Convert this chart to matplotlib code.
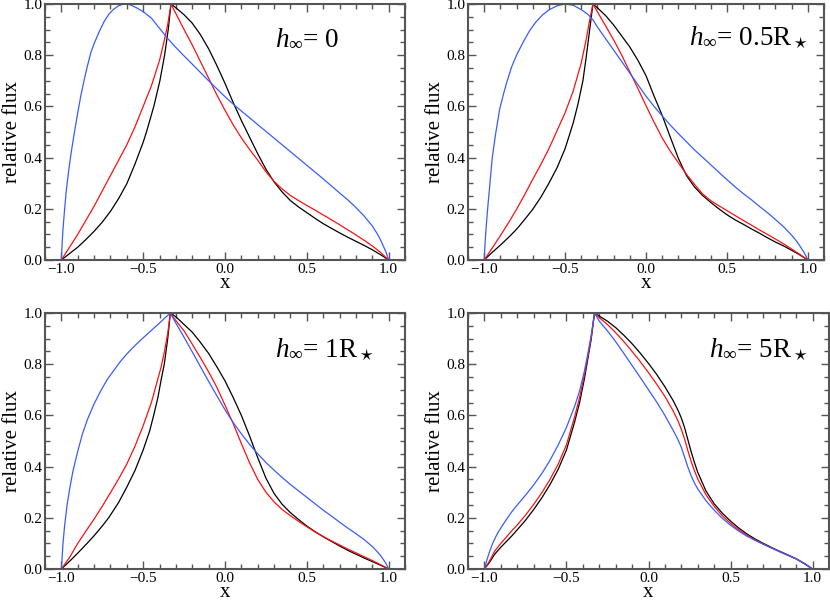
import matplotlib
matplotlib.use("Agg")
import matplotlib.pyplot as plt
from matplotlib.ticker import MultipleLocator

plt.rcParams['font.family'] = ['Liberation Serif', 'DejaVu Serif']
plt.rcParams['mathtext.fontset'] = 'custom'
plt.rcParams['mathtext.rm'] = 'Liberation Serif'
plt.rcParams['mathtext.it'] = 'Liberation Serif:italic'

# ---- values (x, relative flux) ----
labels = [r'$h_{\infty}$= 0', r'$h_{\infty}$= 0.5R$_\star$',
          r'$h_{\infty}$= 1R$_\star$', r'$h_{\infty}$= 5R$_\star$']

# panel 1: h = 0
p1_black_x = [-1.1, -1.0, -0.95, -0.9, -0.85, -0.8, -0.75, -0.7, -0.65, -0.6, -0.55, -0.5, -0.48, -0.435, -0.398,
              -0.369, -0.347, -0.33,
              -0.3, -0.25, -0.2, -0.15, -0.1, -0.05, 0.0, 0.05, 0.1, 0.15, 0.2, 0.25, 0.3, 0.35, 0.4, 0.45, 0.5,
              0.55, 0.6, 0.65, 0.7, 0.75, 0.8, 0.85, 0.9, 0.95, 1.0, 1.1]
p1_black_y = [0, 0, 0.025, 0.05, 0.08, 0.112, 0.148, 0.19, 0.24, 0.298, 0.375, 0.46, 0.5, 0.6, 0.7,
              0.8, 0.9, 1.0,
              0.985, 0.958, 0.925, 0.88, 0.825, 0.76, 0.69, 0.615, 0.545, 0.48, 0.415, 0.355, 0.305, 0.265, 0.232,
              0.207, 0.185, 0.163, 0.142, 0.124, 0.106, 0.089, 0.073, 0.057, 0.04, 0.021, 0, 0]
p1_red_x = [-1.1, -1.0, -0.95, -0.9, -0.85, -0.8, -0.75, -0.7, -0.65, -0.6, -0.55, -0.5, -0.45, -0.4, -0.37, -0.35, -0.33,
            -0.25, -0.2, -0.15, -0.1, -0.05, 0.0, 0.05, 0.1, 0.15, 0.2, 0.25, 0.3, 0.35, 0.4, 0.45, 0.5,
            0.55, 0.6, 0.65, 0.7, 0.75, 0.8, 0.85, 0.9, 0.95, 1.0, 1.1]
p1_red_y = [0, 0, 0.05, 0.1, 0.155, 0.21, 0.27, 0.33, 0.39, 0.45, 0.52, 0.6, 0.68, 0.78, 0.86, 0.92, 1.0,
            0.9, 0.84, 0.775, 0.71, 0.645, 0.585, 0.528, 0.477, 0.432, 0.39, 0.345, 0.307, 0.277, 0.252, 0.232, 0.213,
            0.195, 0.176, 0.157, 0.138, 0.118, 0.098, 0.077, 0.055, 0.03, 0, 0]
p1_blue_x = [-1.1, -1.0, -0.995, -0.99, -0.98, -0.97, -0.955, -0.94, -0.92, -0.9, -0.88, -0.86, -0.84, -0.82, -0.8,
             -0.77, -0.74, -0.71, -0.68, -0.65, -0.62, -0.58, -0.54, -0.5, -0.45, -0.4, -0.35, -0.3, -0.25, -0.2,
             -0.1, 0.0, 0.057, 0.1, 0.2, 0.3, 0.4, 0.5, 0.6, 0.7, 0.75, 0.8, 0.85, 0.9, 0.93, 0.95, 0.97, 0.985, 1.0, 1.1]
p1_blue_y = [0, 0, 0.07, 0.12, 0.2, 0.27, 0.35, 0.42, 0.5, 0.575, 0.645, 0.705, 0.76, 0.81, 0.845,
             0.89, 0.93, 0.96, 0.98, 0.993, 1.0, 0.997, 0.985, 0.97, 0.945, 0.905, 0.865, 0.83, 0.797, 0.765,
             0.70, 0.638, 0.605, 0.582, 0.529, 0.476, 0.423, 0.37, 0.317, 0.262, 0.235, 0.205, 0.172, 0.133, 0.103, 0.079,
             0.051, 0.029, 0, 0]

# panel 2: h = 0.5 R*
p2_black_x = [-1.1, -1.0, -0.95, -0.9, -0.85, -0.8, -0.75, -0.7, -0.65, -0.6, -0.55, -0.5, -0.45, -0.42, -0.39,
              -0.37, -0.35, -0.328, -0.3, -0.25, -0.2, -0.15, -0.1, -0.05, 0.0, 0.05, 0.1, 0.15, 0.2, 0.25, 0.3,
              0.35, 0.4, 0.45, 0.5, 0.55, 0.6, 0.65, 0.7, 0.75, 0.8, 0.85, 0.9, 0.95, 1.0, 1.1]
p2_black_y = [0, 0, 0.03, 0.058, 0.088, 0.12, 0.158, 0.198, 0.245, 0.3, 0.36, 0.435, 0.535, 0.61, 0.7,
              0.79, 0.89, 1.0, 0.985, 0.955, 0.918, 0.875, 0.832, 0.78, 0.72, 0.64, 0.565, 0.48, 0.397, 0.33, 0.285,
              0.252, 0.225, 0.2, 0.177, 0.157, 0.14, 0.122, 0.105, 0.087, 0.07, 0.055, 0.038, 0.02, 0, 0]
p2_red_x = [-1.1, -1.0, -0.95, -0.9, -0.85, -0.8, -0.75, -0.7, -0.65, -0.6, -0.55, -0.5, -0.45, -0.4, -0.37,
            -0.35, -0.328, -0.25, -0.2, -0.15, -0.1, -0.05, 0.0, 0.05, 0.1, 0.15, 0.2, 0.25, 0.3, 0.35, 0.4,
            0.45, 0.5, 0.55, 0.6, 0.65, 0.7, 0.75, 0.8, 0.85, 0.9, 0.95, 1.0, 1.1]
p2_red_y = [0, 0, 0.047, 0.095, 0.145, 0.198, 0.255, 0.315, 0.373, 0.435, 0.505, 0.575, 0.66, 0.77, 0.86,
            0.93, 1.0, 0.915, 0.86, 0.8, 0.735, 0.67, 0.603, 0.538, 0.477, 0.425, 0.38, 0.335, 0.295, 0.258, 0.232,
            0.212, 0.193, 0.174, 0.155, 0.137, 0.118, 0.1, 0.082, 0.063, 0.043, 0.022, 0, 0]
p2_blue_x = [-1.1, -1.0, -0.995, -0.99, -0.98, -0.97, -0.96, -0.95, -0.93, -0.904, -0.88, -0.86, -0.83, -0.8,
             -0.76, -0.72, -0.68, -0.64, -0.6, -0.55, -0.5, -0.45, -0.4, -0.36, -0.33, -0.3, -0.25, -0.2, -0.15,
             -0.1, -0.05, 0.0, 0.05, 0.104, 0.15, 0.2, 0.25, 0.3, 0.352, 0.4, 0.45, 0.5, 0.556, 0.6, 0.65, 0.7,
             0.76, 0.8, 0.85, 0.9, 0.93, 0.95, 0.97, 0.985, 1.0, 1.1]
p2_blue_y = [0, 0, 0.06, 0.11, 0.19, 0.26, 0.33, 0.4, 0.49, 0.59, 0.65, 0.695, 0.755, 0.8,
             0.85, 0.895, 0.93, 0.957, 0.977, 0.993, 1.0, 0.995, 0.978, 0.96, 0.94, 0.91, 0.865, 0.82, 0.775,
             0.73, 0.685, 0.64, 0.6, 0.56, 0.527, 0.494, 0.462, 0.43, 0.4, 0.372, 0.343, 0.314, 0.283, 0.26, 0.236, 0.21,
             0.18, 0.158, 0.13, 0.097, 0.074, 0.056, 0.036, 0.02, 0, 0]

# panel 3: h = 1 R*
p3_black_x = [-1.1, -1.0, -0.95, -0.9, -0.843, -0.8, -0.75, -0.711, -0.65, -0.6, -0.55, -0.5, -0.46, -0.436, -0.41,
              -0.39, -0.371, -0.35, -0.334, -0.3, -0.25, -0.2, -0.15, -0.1, -0.05, 0.0, 0.05, 0.1, 0.15, 0.2, 0.25,
              0.3, 0.35, 0.4, 0.45, 0.5, 0.55, 0.6, 0.65, 0.7, 0.75, 0.8, 0.85, 0.9, 0.95, 1.0, 1.1]
p3_black_y = [0, 0, 0.03, 0.062, 0.1, 0.13, 0.168, 0.2, 0.26, 0.32, 0.385, 0.465, 0.54, 0.6, 0.67,
              0.74, 0.8, 0.9, 1.0, 0.985, 0.955, 0.925, 0.885, 0.842, 0.79, 0.735, 0.67, 0.6, 0.52, 0.435, 0.355,
              0.295, 0.252, 0.22, 0.193, 0.168, 0.146, 0.126, 0.108, 0.09, 0.073, 0.058, 0.043, 0.029, 0.015, 0, 0]
p3_red_x = [-1.1, -1.0, -0.95, -0.9, -0.85, -0.8, -0.75, -0.7, -0.65, -0.6, -0.55, -0.5, -0.45, -0.42, -0.39,
            -0.37, -0.35, -0.334, -0.3, -0.25, -0.2, -0.15, -0.1, -0.05, 0.0, 0.05, 0.1, 0.15, 0.2, 0.25, 0.3,
            0.35, 0.4, 0.45, 0.5, 0.55, 0.6, 0.65, 0.7, 0.75, 0.8, 0.85, 0.9, 0.95, 1.0, 1.1]
p3_red_y = [0, 0, 0.045, 0.1, 0.148, 0.195, 0.245, 0.298, 0.352, 0.41, 0.48, 0.56, 0.65, 0.72, 0.79,
            0.85, 0.92, 1.0, 0.97, 0.93, 0.878, 0.825, 0.77, 0.71, 0.64, 0.568, 0.49, 0.415, 0.35, 0.3, 0.262,
            0.232, 0.208, 0.186, 0.165, 0.145, 0.127, 0.11, 0.094, 0.078, 0.063, 0.048, 0.033, 0.017, 0, 0]
p3_blue_x = [-1.1, -1.0, -0.99, -0.98, -0.965, -0.95, -0.93, -0.9, -0.87, -0.84, -0.8, -0.76, -0.72, -0.68, -0.64,
             -0.6, -0.55, -0.5, -0.45, -0.4, -0.36, -0.334, -0.3, -0.25, -0.2, -0.15, -0.1, -0.05, 0.0, 0.05, 0.1,
             0.15, 0.2, 0.25, 0.3, 0.35, 0.4, 0.45, 0.5, 0.55, 0.6, 0.65, 0.7, 0.75, 0.8, 0.85, 0.9, 0.93, 0.95,
             0.97, 0.985, 1.0, 1.1]
p3_blue_y = [0, 0, 0.1, 0.17, 0.25, 0.31, 0.38, 0.46, 0.53, 0.585, 0.645, 0.695, 0.74, 0.775, 0.81,
             0.84, 0.873, 0.903, 0.932, 0.961, 0.985, 1.0, 0.96, 0.905, 0.848, 0.79, 0.733, 0.677, 0.622, 0.572, 0.528,
             0.487, 0.45, 0.416, 0.386, 0.357, 0.33, 0.305, 0.28, 0.255, 0.23, 0.207, 0.183, 0.16, 0.138, 0.115, 0.088,
             0.068, 0.053, 0.035, 0.02, 0, 0]

# panel 4: h = 5 R*
p4_black_x = [-1.1, -1.0, -0.97, -0.937, -0.9, -0.835, -0.8, -0.75, -0.7, -0.65, -0.6, -0.55, -0.5, -0.45, -0.42,
              -0.39, -0.37, -0.35, -0.329, -0.3, -0.25, -0.2, -0.15, -0.1, -0.05, 0.0, 0.05, 0.1, 0.15, 0.18, 0.2,
              0.22, 0.24, 0.26, 0.28, 0.3, 0.35, 0.4, 0.45, 0.5, 0.55, 0.6, 0.65, 0.7, 0.75, 0.8, 0.85, 0.9, 0.95,
              1.0, 1.1]
p4_black_y = [0, 0, 0.025, 0.058, 0.085, 0.128, 0.153, 0.19, 0.232, 0.278, 0.33, 0.39, 0.465, 0.575, 0.65,
              0.745, 0.82, 0.895, 1.0, 0.988, 0.968, 0.943, 0.913, 0.88, 0.843, 0.803, 0.76, 0.712, 0.658, 0.62, 0.59,
              0.552, 0.505, 0.458, 0.416, 0.378, 0.305, 0.255, 0.218, 0.187, 0.16, 0.137, 0.117, 0.1, 0.084, 0.069,
              0.055, 0.04, 0.021, 0, 0]
p4_red_x = [-1.1, -1.0, -0.97, -0.937, -0.9, -0.835, -0.8, -0.75, -0.7, -0.65, -0.6, -0.55, -0.5, -0.45, -0.42,
            -0.39, -0.37, -0.35, -0.329, -0.3, -0.25, -0.2, -0.15, -0.1, -0.05, 0.0, 0.05, 0.1, 0.15, 0.18, 0.2,
            0.22, 0.24, 0.26, 0.28, 0.3, 0.35, 0.4, 0.45, 0.5, 0.55, 0.6, 0.65, 0.7, 0.75, 0.8, 0.85, 0.9, 0.95,
            1.0, 1.1]
p4_red_y = [0, 0, 0.03, 0.07, 0.1, 0.148, 0.172, 0.21, 0.252, 0.298, 0.35, 0.41, 0.485, 0.595, 0.67,
            0.76, 0.83, 0.9, 1.0, 0.982, 0.955, 0.923, 0.888, 0.85, 0.81, 0.767, 0.722, 0.674, 0.618, 0.578, 0.546,
            0.507, 0.462, 0.42, 0.384, 0.352, 0.29, 0.245, 0.208, 0.178, 0.153, 0.132, 0.113, 0.097, 0.082, 0.067,
            0.053, 0.039, 0.021, 0, 0]
p4_blue_x = [-1.1, -1.0, -0.985, -0.97, -0.95, -0.92, -0.88, -0.835, -0.8, -0.75, -0.7, -0.65, -0.6, -0.55, -0.5,
             -0.45, -0.42, -0.39, -0.37, -0.35, -0.329, -0.3, -0.25, -0.2, -0.15, -0.1, -0.05, 0.0, 0.05, 0.1, 0.15,
             0.18, 0.2, 0.22, 0.24, 0.26, 0.28, 0.3, 0.35, 0.4, 0.45, 0.5, 0.55, 0.6, 0.65, 0.7, 0.75, 0.8, 0.85,
             0.9, 0.95, 1.0, 1.1]
p4_blue_y = [0, 0, 0.035, 0.065, 0.1, 0.14, 0.18, 0.222, 0.25, 0.288, 0.328, 0.373, 0.425, 0.485, 0.553,
             0.636, 0.695, 0.775, 0.84, 0.91, 1.0, 0.968, 0.93, 0.888, 0.842, 0.795, 0.748, 0.7, 0.652, 0.6, 0.542,
             0.505, 0.475, 0.437, 0.398, 0.364, 0.336, 0.313, 0.267, 0.23, 0.198, 0.171, 0.148, 0.128, 0.112, 0.097,
             0.082, 0.068, 0.054, 0.04, 0.022, 0, 0]

panels = [
    [(p1_black_x, p1_black_y), (p1_red_x, p1_red_y), (p1_blue_x, p1_blue_y)],
    [(p2_black_x, p2_black_y), (p2_red_x, p2_red_y), (p2_blue_x, p2_blue_y)],
    [(p3_black_x, p3_black_y), (p3_red_x, p3_red_y), (p3_blue_x, p3_blue_y)],
    [(p4_black_x, p4_black_y), (p4_red_x, p4_red_y), (p4_blue_x, p4_blue_y)],
]
line_colors = ['black', '#ff1010', '#3a5cff']

# axes boxes in pixels: left, top, right, bottom
W, H = 830, 608
boxes = [(45, 4, 405, 260), (468, 4, 824, 260), (45, 313, 405, 569), (468, 313, 829, 569)]
label_pos = [(0.64, 0.84), (0.62, 0.84), (0.64, 0.83), (0.667, 0.83)]

fig = plt.figure(figsize=(W / 100, H / 100), dpi=100)
frame_col = '#555555'

for i, (curves, (x0, y0, x1, y1)) in enumerate(zip(panels, boxes)):
    ax = fig.add_axes([x0 / W, 1 - y1 / H, (x1 - x0) / W, (y1 - y0) / H])
    for (xs, ys), col in zip(curves, line_colors):
        ax.plot(xs, ys, color=col, lw=0.9)
    ax.set_xlim(-1.1, 1.1)
    ax.set_ylim(0, 1.0)
    ax.xaxis.set_major_locator(MultipleLocator(0.5))
    ax.xaxis.set_minor_locator(MultipleLocator(0.1))
    ax.yaxis.set_major_locator(MultipleLocator(0.2))
    ax.yaxis.set_minor_locator(MultipleLocator(0.05))
    ax.xaxis.set_major_formatter(lambda v, p: f'{v:.1f}'.replace('-', '\u2212'))
    ax.yaxis.set_major_formatter(lambda v, p: f'{v:.1f}')
    ax.tick_params(which='both', direction='in', top=True, right=True, color=frame_col, width=1.0)
    ax.tick_params(which='major', length=6, labelsize=11, pad=2)
    ax.tick_params(which='minor', length=3.5)
    for sp in ax.spines.values():
        sp.set_color(frame_col)
        sp.set_linewidth(1.5)
    ax.set_xlabel('x', fontsize=15, labelpad=-1)
    ax.set_ylabel('relative flux', fontsize=15, labelpad=1)
    ax.text(label_pos[i][0], label_pos[i][1], labels[i], transform=ax.transAxes,
            fontsize=19.5, ha='left', va='baseline')

fig.savefig('out.png', dpi=100)
